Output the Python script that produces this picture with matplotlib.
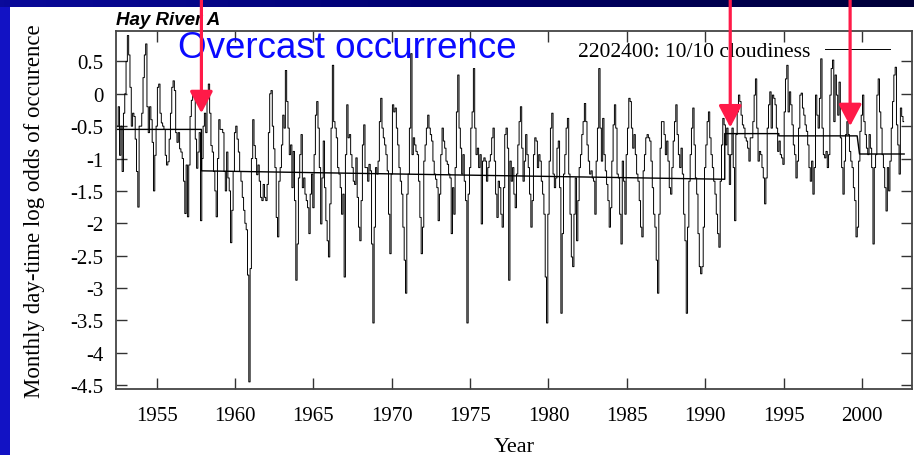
import numpy as np
import matplotlib
matplotlib.use("Agg")
import matplotlib.pyplot as plt
from matplotlib.patches import Rectangle

# monthly day-time log odds of 10/10 cloudiness, station 2202400 (Hay River A)
# first value is July 1952, one row per year
first_month = 1952.5
log_odds = [
    -0.50, -0.20, -0.95, -0.50, -1.20, -0.30,
    0.00, 0.50, 0.90, 0.60, 0.10, -0.50, -0.30, -0.35, -0.70, -1.20, -1.75, -0.50,
    -0.50, -0.30, 0.25, 0.60, 0.77, -0.20, -0.60, -0.20, -0.40, -0.75, -1.50, -0.95,
    -0.50, 0.10, 0.15, -0.30, -0.45, -0.50, -0.55, -0.95, -1.10, -1.05, -0.70, -0.30,
    0.10, 0.20, 0.05, -0.60, -0.75, -0.60, -0.85, -0.90, -1.00, -1.35, -1.85, -1.10,
    -1.90, -1.10, -0.35, -0.10, 0.05, 0.00, -0.70, -1.15, -0.90, -0.60, -1.96, -1.00,
    -0.50, -0.30, -0.60, 0.00, 0.15, -0.30, -0.80, -0.90, -1.20, -1.50, -1.90, -1.00,
    -0.40, -0.55, -0.55, -0.60, -1.20, -1.50, -0.90, -1.30, -1.50, -2.30, -1.80, -1.20,
    -0.60, -0.50, -0.70, -0.90, -1.20, -1.35, -1.60, -1.80, -2.00, -2.10, -2.80, -4.45,
    -2.70, -1.00, -0.40, -0.80, -1.00, -1.25, -1.10, -1.35, -1.60, -1.65, -1.40, -1.60,
    -1.65, -1.40, -0.60, 0.00, 0.05, -0.50, -0.85, -1.14, -1.91, -2.21, -1.35, -1.14,
    -0.79, -0.33, -0.53, 0.36, -0.12, -0.53, -0.94, -0.79, -1.45, -0.89, -1.65, -2.88,
    -2.32, -1.30, -0.94, -0.63, -1.45, -1.30, -1.55, -1.65, -1.76, -2.16, -1.55, -1.24,
    -1.76, -0.94, -0.33, -0.12, -0.53, -1.14, -2.01, -1.30, -0.73, -1.45, -1.96, -2.27,
    -2.52, -1.70, -0.53, 0.44, -0.43, -0.53, -0.68, -1.14, -1.24, -1.45, -1.86, -1.55,
    -2.83, -0.94, -0.17, -0.68, -0.63, -0.94, -1.14, -1.35, -1.40, -0.99, -1.60, -2.06,
    -2.27, -1.65, -0.79, -0.48, -1.14, -1.14, -1.35, -1.09, -1.19, -2.32, -3.54, -2.06,
    -1.14, -1.24, -1.04, -0.43, -0.07, -0.53, -0.68, -0.79, -0.94, -1.19, -1.86, -2.47,
    -1.24, -0.17, -0.28, -0.22, -0.53, -0.79, -1.14, -1.35, -1.55, -2.06, -2.57, -3.08,
    -1.55, -1.24, -0.53, 0.62, -0.94, -0.68, -0.79, -0.89, -0.94, -1.35, -1.91, -2.47,
    -2.06, -1.04, -0.79, -0.53, -0.33, -0.53, -0.63, -0.73, -1.04, -1.24, -1.32, -1.45,
    -1.96, -1.55, -0.94, -0.53, -0.73, -0.84, -1.04, -1.09, -1.24, -1.30, -2.16, -1.45,
    -1.86, -1.14, -0.28, 0.29, -0.53, -0.84, -1.24, -0.94, -1.35, -1.65, -3.54, -1.55,
    -1.14, -0.53, -0.28, 0.39, -0.53, -0.94, -0.84, -1.14, -0.94, -2.01, -1.04, -0.99,
    -1.04, -1.35, -1.14, -1.04, -0.94, -0.68, -0.53, -1.04, -1.55, -1.91, -1.35, -1.45,
    -1.86, -2.06, -1.45, -0.63, -0.53, -0.84, -2.88, -1.04, -1.35, -1.14, -1.55, -1.76,
    -1.24, -0.79, -0.43, -0.20, -0.84, -1.35, -1.04, -0.63, -0.94, -1.14, -1.55, -2.06,
    -1.65, -0.94, -0.68, -0.73, -1.14, -0.94, -1.04, -1.35, -1.55, -1.86, -2.83, -3.54,
    -1.86, -1.04, -0.53, -0.30, -1.24, -1.45, -1.30, -0.84, -0.73, -1.45, -3.39, -2.16,
    -1.24, -0.94, -0.53, -0.38, -1.24, -1.86, -2.52, -2.67, -1.86, -1.30, -2.27, -1.65,
    -1.14, -0.94, -0.63, -0.43, -0.15, -0.43, -0.79, -1.04, -1.24, -1.19, -1.30, -1.35,
    -1.86, -1.04, -0.53, 0.39, -0.53, -1.04, -0.38, -0.94, -1.19, -1.40, -1.65, -2.06,
    -1.76, -1.04, -0.48, -0.17, -0.53, -1.24, -1.30, -1.86, -2.32, -1.04, -1.35, -1.86,
    -0.94, -0.53, -0.07, -0.12, -0.53, -0.84, -0.63, -0.94, -1.24, -1.35, -1.65, -2.06,
    -2.21, -1.19, -0.94, -0.68, -0.63, -0.68, -0.73, -1.04, -1.45, -1.86, -2.06, -2.57,
    -3.08, -1.86, -0.84, -0.43, -0.43, -0.63, -0.94, -0.73, -1.04, -1.45, -1.55, -1.14,
    -0.73, -0.43, -0.17, -0.63, -0.94, -1.14, -0.84, -1.24, -1.86, -2.27, -3.39, -2.06,
    -1.35, -0.94, -0.53, -0.22, -0.79, -1.30, -1.55, -2.16, -2.67, -2.78, -2.67, -2.06,
    -1.14, -0.79, -0.43, -0.28, -0.68, -0.94, -1.14, -1.35, -1.55, -1.86, -2.16, -2.37,
    -1.35, -0.79, -0.38, -0.48, -0.79, -0.53, -0.94, -1.40, -0.94, -0.53, -1.14, -1.96,
    -0.63, -0.28, -0.02, -0.12, -0.33, -0.48, -0.53, -0.68, -0.73, -0.84, -1.04, -0.68,
    -0.68, -0.43, -0.02, 0.23, -0.53, -1.04, -0.89, -0.94, -1.14, -1.30, -1.70, -1.30,
    -0.53, -0.17, 0.03, -0.53, -0.02, -0.07, -0.17, -0.53, -0.89, -0.73, -0.94, -0.99,
    -1.09, -0.28, 0.23, 0.44, -0.28, 0.03, -0.17, -0.48, -0.79, -0.94, -1.30, -1.04,
    -0.53, -0.02, 0.01, -0.22, -0.33, -0.48, -0.58, -0.79, -1.14, -1.35, -1.04, -1.55,
    -1.14, -0.02, -0.33, -0.53, -0.07, 0.54, -0.53, -0.94, -0.99, -0.89, -1.14, -0.94,
    -0.02, 0.39, 0.52, -0.43, 0.29, -0.02, -0.33, 0.18, -0.68, -1.14, -1.55, -1.04,
    -0.63, -0.43, -0.63, -0.89, -1.04, -1.14, -1.45, -1.65, -2.21, -2.06, -1.04, -0.58,
    -0.33, -0.02, -0.43, -0.63, -0.84, -0.94, -0.63, -0.84, -1.14, -2.32, -1.14, -0.94,
    -0.02, 0.23, -0.28, -0.53, -0.94, -1.14, -1.45, -1.81, -1.14, -1.50, -1.04, -0.53,
    -0.12, 0.29, 0.41, -0.48, -0.79, -1.24, -0.22, -0.35, -0.43,
]

# segment means between detected breakpoints
mean_years = [1952.5, 1957.85, 1957.85, 1991.25, 1991.25, 1994.7, 1994.7, 1999.7, 1999.85, 2002.7]
mean_values = [-0.55, -0.55, -1.19, -1.32, -0.615, -0.615, -0.65, -0.65, -0.93, -0.93]

# breakpoints marked with red arrows
break_years = [1957.85, 1991.6, 1999.25]
arrow_tips = [-0.30, -0.52, -0.50]

xtick_years = [1955, 1960, 1965, 1970, 1975, 1980, 1985, 1990, 1995, 2000]
ytick_values = [0.5, 0, -0.5, -1, -1.5, -2, -2.5, -3, -3.5, -4, -4.5]
ytick_labels = ["0.5", "0", "-0.5", "-1", "-1.5", "-2", "-2.5", "-3", "-3.5", "-4", "-4.5"]

serif = "Liberation Serif"
sans = "Liberation Sans"
arrow_red = "#ff1a48"

months = first_month + np.arange(len(log_odds)) / 12.0

fig = plt.figure(figsize=(9.14, 4.56), dpi=100)
fig.patch.set_facecolor("white")

# slide frame: gradient band on top, blue strip on the left
band = fig.add_axes([0, 1 - 8 / 456, 1, 8 / 456], zorder=1)
grad = np.linspace(0, 1, 256).reshape(1, -1)
band.imshow(grad, aspect="auto", cmap=matplotlib.colors.LinearSegmentedColormap.from_list(
    "band", ["#0a0a9a", "#00006e", "#000038"]), extent=[0, 1, 0, 1])
band.axis("off")
fig.patches.append(Rectangle((0, 0), 10 / 914, 1, transform=fig.transFigure,
                             facecolor="#1212c4", edgecolor="none", zorder=0))

ax = fig.add_axes([116 / 914, 1 - 390 / 456, 796 / 914, 358 / 456], zorder=2)

line, = ax.plot(months, log_odds, color="black", lw=0.7, drawstyle="steps-mid")
ax.plot(mean_years, mean_values, color="black", lw=1.0)

for yr, tip in zip(break_years, arrow_tips):
    ax.annotate("", xy=(yr, tip), xytext=(yr, 1.0),
                textcoords=("data", "figure fraction"),
                arrowprops=dict(arrowstyle="-|>,head_length=0.95,head_width=0.5",
                                color=arrow_red, lw=2.3, mutation_scale=14,
                                shrinkA=0, shrinkB=0),
                annotation_clip=False, zorder=6)

ax.set_xlim(1952.4, 2003.2)
ax.set_ylim(-4.56, 0.97)
ax.set_xticks(xtick_years)
ax.set_xticklabels([str(y) for y in xtick_years], fontfamily=serif, fontsize=15)
ax.set_yticks(ytick_values)
ax.set_yticklabels(ytick_labels, fontfamily=serif, fontsize=15)
ax.tick_params(direction="in", length=8, width=1, top=True, right=True, color="#333333")
ax.tick_params(axis="x", pad=12)
ax.tick_params(axis="y", pad=9)
for s in ax.spines.values():
    s.set_color("#444444")
    s.set_linewidth(1.3)

ax.set_xlabel("Year", fontfamily=serif, fontsize=16, labelpad=9)
ax.set_ylabel("Monthly day-time log odds of occurence", fontfamily=serif, fontsize=16.5, labelpad=18)
ax.set_title("Hay River A", loc="left", pad=5, fontfamily=sans, fontsize=13.5,
             fontweight="bold", fontstyle="italic")

ax.text(0.291, 0.955, "Overcast occurrence", transform=ax.transAxes, ha="center", va="center",
        color="#0a0aff", fontfamily=sans, fontsize=26.5)

ax.legend([line], ["2202400: 10/10 cloudiness"], loc="center right",
          bbox_to_anchor=(0.972, 0.944), frameon=False, markerfirst=False,
          handlelength=3.0, handletextpad=0.7, borderpad=0, borderaxespad=0,
          prop={"family": serif, "size": 15.5})

fig.savefig("out.png", dpi=100)
